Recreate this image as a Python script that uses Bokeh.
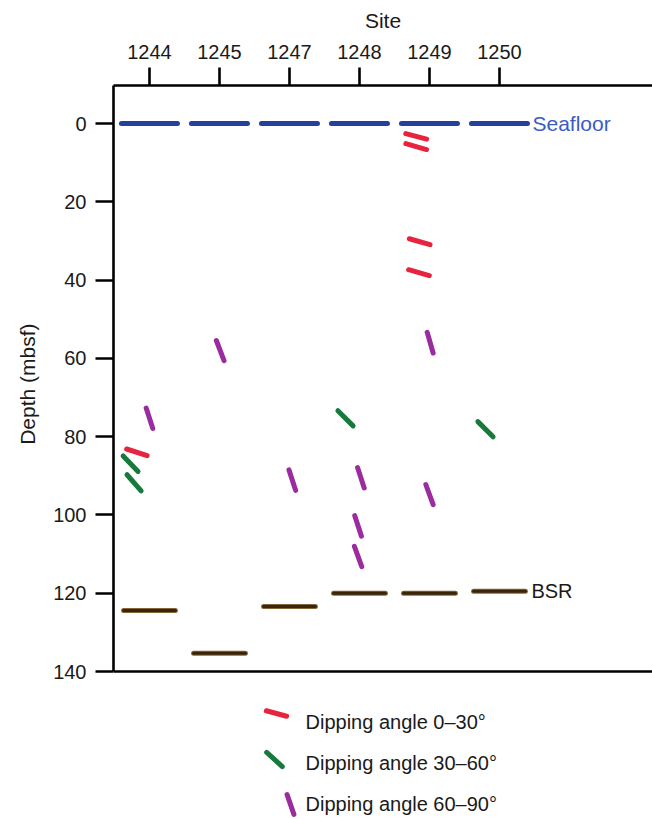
import math
from bokeh.plotting import figure
from bokeh.models import Range1d, FixedTicker, Span, Label, ColumnDataSource, Title
from bokeh.embed import file_html
from bokeh.resources import INLINE

# ---------------- data ----------------
sites = ["1244", "1245", "1247", "1248", "1249", "1250"]
site_pos = [0, 1, 2, 3, 4, 5]
seafloor_depth = [0, 0, 0, 0, 0, 0]
bsr_depth = [124.4, 135.3, 123.4, 120.0, 120.0, 119.5]

# dip picks: position on site axis, depth (mbsf), apparent dip on the plot (deg)
dip_low_x = [3.81, 3.81, 3.86, 3.85, -0.18]
dip_low_depth = [3.3, 5.9, 30.2, 38.1, 84.0]
dip_low_angle = [15, 16, 16, 16, 18]

dip_mid_x = [-0.27, -0.22, 2.80, 4.80]
dip_mid_depth = [86.9, 91.8, 75.3, 78.1]
dip_mid_angle = [46, 49, 45, 45]

dip_high_x = [0.00, 1.01, 2.04, 3.02, 2.98, 2.98, 4.01, 4.00]
dip_high_depth = [75.3, 58.0, 91.1, 90.5, 102.8, 110.6, 56.0, 94.8]
dip_high_angle = [72, 69, 72, 72, 72, 70, 74, 70]

legend_labels = ["Dipping angle 0\u201330\u00b0", "Dipping angle 30\u201360\u00b0", "Dipping angle 60\u201390\u00b0"]
legend_angles = [15, 42, 71]
y_ticks = [0, 20, 40, 60, 80, 100, 120, 140]

# ---------------- layout / style ----------------
W, H = 652, 819
FL, FT = 113, 85            # frame left / top in px
X_START, X_END = -0.514, 7.186
D_TOP, D_BOT = -9.71, 177.8
PX_X = (W - FL) / (X_END - X_START)
PX_D = (H - FT) / (D_BOT - D_TOP)

def px_to_x(px):
    return X_START + (px - FL) / PX_X

def py_to_d(py):
    return D_TOP + (py - FT) / PX_D

FONT = "Liberation Sans"
RED, GREEN, PURPLE = "#e8233d", "#177a3b", "#9b2c9f"
BLUE = "#23419c"
TXT = "#1a1a1a"
DIP_LEN = 21.5   # px
SF_HALF_W = 0.40
BSR_HALF_W = 0.37

p = figure(width=W, height=H, output_backend="svg", toolbar_location=None,
           x_range=Range1d(X_START, X_END), y_range=Range1d(D_BOT, D_TOP),
           x_axis_location="above", min_border_left=FL, min_border_top=FT,
           min_border_right=0, min_border_bottom=0)
p.outline_line_color = None
p.xgrid.visible = False
p.ygrid.visible = False
p.background_fill_color = "white"
p.border_fill_color = "white"

# axes
for ax in (p.xaxis[0], p.yaxis[0]):
    ax.axis_line_width = 2.6
    ax.axis_line_color = "black"
    ax.major_tick_line_width = 2.6
    ax.major_tick_line_color = "black"
    ax.major_tick_in = 0
    ax.major_tick_out = 18
    ax.minor_tick_line_color = None
    ax.major_label_text_font = FONT
    ax.major_label_text_font_size = "20px"
    ax.major_label_text_color = TXT
    ax.axis_label_text_font = FONT
    ax.axis_label_text_font_size = "21px"
    ax.axis_label_text_font_style = "normal"
    ax.axis_label_text_color = TXT

xa = p.xaxis[0]
xa.ticker = FixedTicker(ticks=site_pos)
xa.major_label_overrides = {i: s for i, s in zip(site_pos, sites)}
xa.axis_label = "Site"
xa.major_label_standoff = 9
xa.axis_label_standoff = 10

ya = p.yaxis[0]
ya.ticker = FixedTicker(ticks=y_ticks)
ya.bounds = (D_TOP, y_ticks[-1])
ya.major_label_standoff = 9

# y-axis title placed alongside the bounded axis (its top end 238 px below frame top)
p.add_layout(Title(text="Depth (mbsf)", align="right", offset=238, standoff=24,
                   text_font=FONT, text_font_size="21px", text_font_style="normal",
                   text_color=TXT), "left")

p.add_layout(Span(location=y_ticks[-1], dimension="width", line_color="black", line_width=2.6))

# seafloor and BSR
sf = ColumnDataSource(dict(x0=[s - SF_HALF_W for s in site_pos], x1=[s + SF_HALF_W for s in site_pos],
                           d=seafloor_depth))
p.segment(x0="x0", y0="d", x1="x1", y1="d", source=sf, line_color=BLUE, line_width=5, line_cap="round")

bsr = ColumnDataSource(dict(x0=[s - BSR_HALF_W for s in site_pos], x1=[s + BSR_HALF_W for s in site_pos],
                            d=bsr_depth))
p.segment(x0="x0", y0="d", x1="x1", y1="d", source=bsr, line_color="#86653a", line_width=5, line_cap="round")
p.segment(x0="x0", y0="d", x1="x1", y1="d", source=bsr, line_color="#3a2508", line_width=3, line_cap="round")

def dip_source(xs, ds, angs, length=DIP_LEN):
    x0, y0, x1, y1 = [], [], [], []
    for x, d, a in zip(xs, ds, angs):
        dx = math.cos(math.radians(a)) * length / 2 / PX_X
        dd = math.sin(math.radians(a)) * length / 2 / PX_D
        x0.append(x - dx); y0.append(d - dd); x1.append(x + dx); y1.append(d + dd)
    return ColumnDataSource(dict(x0=x0, y0=y0, x1=x1, y1=y1))

for xs, ds, angs, col in ((dip_low_x, dip_low_depth, dip_low_angle, RED),
                          (dip_mid_x, dip_mid_depth, dip_mid_angle, GREEN),
                          (dip_high_x, dip_high_depth, dip_high_angle, PURPLE)):
    p.segment(x0="x0", y0="y0", x1="x1", y1="y1", source=dip_source(xs, ds, angs),
              line_color=col, line_width=5, line_cap="round")

# labels for seafloor and BSR
p.add_layout(Label(x=site_pos[-1] + SF_HALF_W, y=seafloor_depth[-1], x_offset=5, text="Seafloor",
                   text_font=FONT, text_font_size="21px", text_color="#3a5bc2",
                   text_baseline="middle", text_align="left"))
p.add_layout(Label(x=site_pos[-1] + BSR_HALF_W, y=bsr_depth[-1], x_offset=6, text="BSR",
                   text_font=FONT, text_font_size="20px", text_color=TXT,
                   text_baseline="middle", text_align="left"))

# legend (manual, with slanted symbols)
leg_glyph_px = [(276, 713), (274, 759), (290, 804)]
leg_text_py = [721, 762, 803]
leg_text_px = 305
for (gx, gy), ty, lab, ang, col in zip(leg_glyph_px, leg_text_py, legend_labels, legend_angles,
                                      (RED, GREEN, PURPLE)):
    src = dip_source([px_to_x(gx)], [py_to_d(gy)], [ang], length=21)
    p.segment(x0="x0", y0="y0", x1="x1", y1="y1", source=src, line_color=col, line_width=5,
              line_cap="round")
    p.add_layout(Label(x=px_to_x(leg_text_px), y=py_to_d(ty), text=lab, text_font=FONT,
                       text_font_size="20px", text_color=TXT, text_baseline="middle",
                       text_align="left"))

open("out.html", "w").write(file_html(p, INLINE))
